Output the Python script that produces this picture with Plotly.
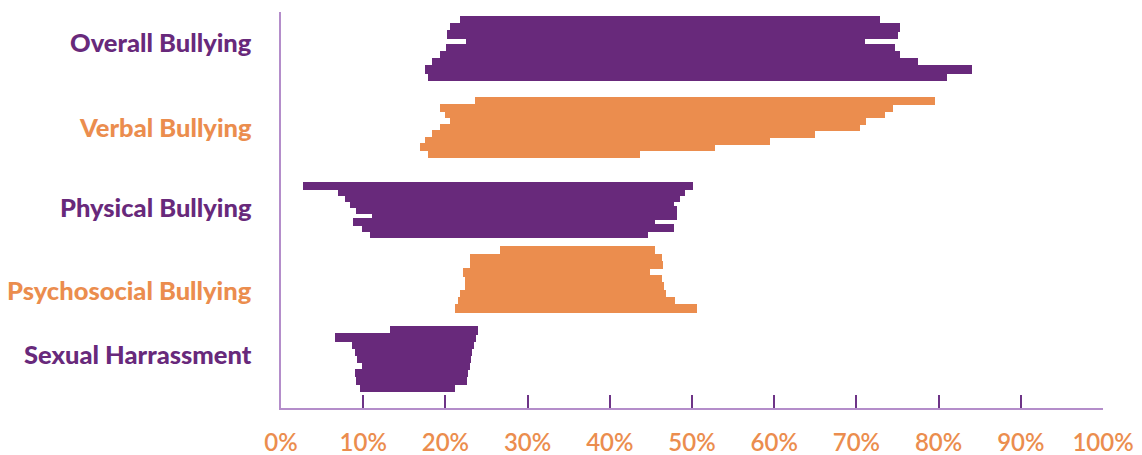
import plotly.graph_objects as go

# ---- data (percent); each row is drawn as 9 brush strokes, top to bottom ----
categories = ["Overall Bullying", "Verbal Bullying", "Physical Bullying",
              "Psychosocial Bullying", "Sexual Harrassment"]

overall_start = [21.8, 20.6, 20.2, 22.5, 20.1, 19.3, 18.4, 17.5, 17.9]
overall_end = [72.9, 75.3, 75.1, 71.0, 74.7, 75.3, 77.5, 84.1, 81.0]

verbal_start = [23.6, 19.3, 20.0, 20.6, 19.3, 18.4, 17.5, 16.9, 17.9]
verbal_end = [79.6, 74.5, 73.5, 71.2, 70.4, 65.0, 59.5, 52.8, 43.7]

physical_start = [2.7, 6.9, 7.8, 8.4, 9.1, 11.1, 8.8, 9.9, 10.8]
physical_end = [50.1, 49.1, 48.5, 47.8, 48.2, 48.2, 45.5, 47.8, 44.6]

psychosocial_start = [26.6, 23.0, 23.0, 22.1, 22.4, 22.4, 21.8, 21.5, 21.2]
psychosocial_end = [45.5, 46.4, 46.5, 44.9, 46.4, 46.6, 46.8, 47.9, 50.6]

sexual_start = [13.3, 6.6, 8.6, 9.0, 9.2, 9.9, 9.0, 9.1, 9.6]
sexual_end = [24.0, 23.7, 23.5, 23.2, 23.1, 23.0, 22.7, 22.6, 21.2]

starts = [overall_start, verbal_start, physical_start, psychosocial_start, sexual_start]
ends = [overall_end, verbal_end, physical_end, psychosocial_end, sexual_end]

x_ticks = [0, 10, 20, 30, 40, 50, 60, 70, 80, 90, 100]
x_tick_labels = [f"{v}%" for v in x_ticks]

# ---- layout / style (y axis in pixel-like units, top = 0) ----
PURPLE = "#68297b"
ORANGE = "#eb8d4e"
colors = [PURPLE, ORANGE, PURPLE, ORANGE, PURPLE]
row_top = [5, 86, 171, 235, 315]
row_height = [63, 59, 54, 65, 64]
label_y = [30, 115, 195, 278, 342]

fig = go.Figure()
for i, cat in enumerate(categories):
    n = len(starts[i])
    h = row_height[i] / n
    ys = [row_top[i] + h * (k + 0.5) for k in range(n)]
    fig.add_trace(go.Bar(
        orientation="h",
        y=ys,
        base=starts[i],
        x=[e - s for s, e in zip(starts[i], ends[i])],
        width=h * 1.2,
        marker=dict(color=colors[i], line=dict(width=0)),
        name=cat,
        showlegend=False,
        hovertemplate=cat + "<extra></extra>",
    ))
    fig.add_annotation(
        xref="paper", yref="y", x=0, y=label_y[i], xanchor="right", yanchor="middle",
        xshift=-27, showarrow=False,
        text=cat,
        font=dict(family="Lato", size=25.5, weight=900, color=colors[i]),
    )

# the page body has an 8px default margin, so the figure is 8px smaller than the window
fig.update_layout(
    width=1134, height=447,
    margin=dict(l=273, r=39, t=4, b=47, autoexpand=False),
    paper_bgcolor="white", plot_bgcolor="white",
    barmode="overlay", bargap=0,
    xaxis=dict(
        range=[0, 100], tickvals=x_ticks, ticktext=x_tick_labels,
        showgrid=False, zeroline=False, automargin=False,
        showline=True, linecolor="#b48dca", linewidth=2,
        ticks="inside", ticklen=13, tickwidth=1.5, tickcolor="#6e3487",
        tickfont=dict(family="Lato", size=24, weight=600, color=ORANGE),
        ticklabelstandoff=12,
        fixedrange=True,
    ),
    yaxis=dict(
        range=[396, 0], showgrid=False, zeroline=False, automargin=False,
        showline=True, linecolor="#b48dca", linewidth=2,
        showticklabels=False, ticks="",
        fixedrange=True,
    ),
)

fig.write_html("out.html")
